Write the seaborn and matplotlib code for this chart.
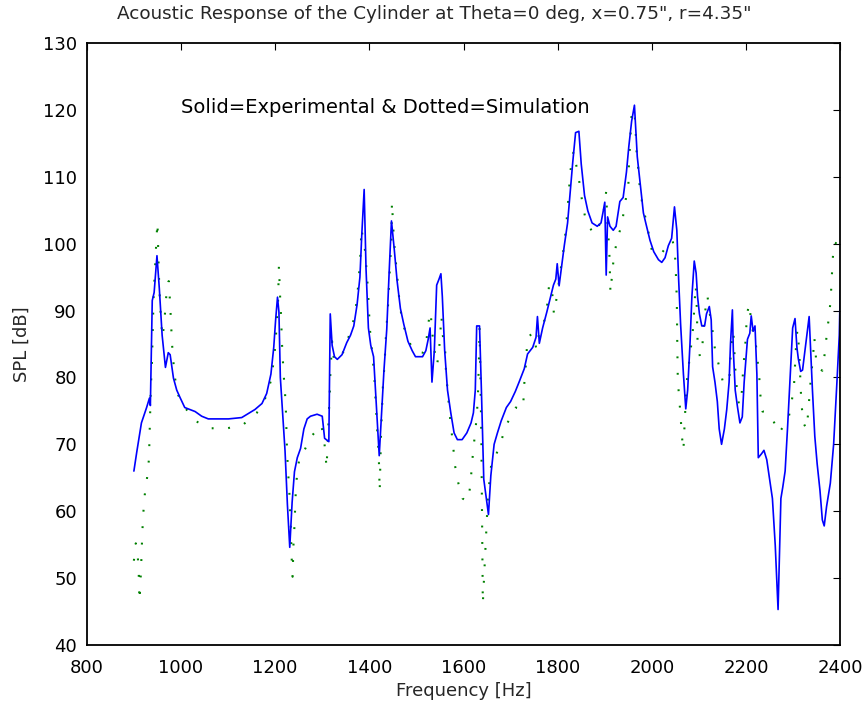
import numpy as np
import pandas as pd
import matplotlib
matplotlib.use("Agg")
import matplotlib.pyplot as plt
import seaborn as sns

# Measured response (solid)
exp_freq = [900, 906, 916, 927, 933, 935, 939, 943, 949, 954, 960, 967, 973, 977, 984, 991, 998,
            1008, 1019, 1030, 1044, 1058, 1087, 1101, 1129, 1143, 1157, 1172, 1182, 1191, 1197,
            1201, 1205, 1208, 1211, 1215, 1221, 1226, 1231, 1236, 1241, 1247, 1254, 1261, 1268,
            1275, 1289, 1300, 1305, 1314, 1317, 1321, 1326, 1332, 1342, 1352, 1360, 1367, 1374,
            1380, 1384, 1389, 1393, 1398, 1403, 1409, 1414, 1421, 1426, 1431, 1437, 1442, 1447,
            1453, 1459, 1466, 1473, 1482, 1491, 1498, 1513, 1520, 1525, 1529, 1533, 1538, 1543,
            1548, 1552, 1555, 1560, 1566, 1573, 1580, 1587, 1597, 1607, 1616, 1621, 1625, 1628,
            1634, 1638, 1643, 1653, 1658, 1665, 1672, 1680, 1691, 1700, 1710, 1718, 1729, 1736,
            1747, 1754, 1757, 1761, 1768, 1777, 1784, 1791, 1796, 1799, 1803, 1809, 1814, 1821,
            1826, 1832, 1838, 1845, 1850, 1857, 1864, 1873, 1884, 1892, 1896, 1900, 1903, 1906,
            1911, 1918, 1924, 1932, 1939, 1946, 1951, 1957, 1963, 1969, 1976, 1982, 1987, 1996,
            2004, 2014, 2021, 2028, 2035, 2042, 2048, 2053, 2057, 2061, 2067, 2072, 2076, 2081,
            2085, 2090, 2094, 2097, 2101, 2106, 2112, 2116, 2122, 2126, 2129, 2134, 2139, 2143,
            2148, 2154, 2159, 2164, 2167, 2171, 2173, 2177, 2182, 2187, 2192, 2196, 2203, 2208,
            2211, 2215, 2219, 2223, 2226, 2233, 2238, 2244, 2250, 2256, 2262, 2268, 2271, 2274,
            2278, 2283, 2288, 2294, 2299, 2304, 2308, 2311, 2316, 2320, 2325, 2330, 2334, 2337,
            2341, 2346, 2351, 2357, 2362, 2366, 2371, 2379, 2386, 2393, 2398, 2400]
exp_spl = [66.0, 68.8, 73.2, 75.5, 76.9, 75.8, 91.5, 92.7, 98.2, 93.3, 86.3, 81.5, 83.7, 83.4, 79.9,
           78.1, 77.0, 75.5, 75.2, 74.9, 74.2, 73.8, 73.8, 73.8, 74.0, 74.6, 75.2, 76.1, 77.6, 80.5,
           84.5, 88.6, 92.0, 89.8, 80.0, 75.5, 69.0, 61.0, 54.6, 61.3, 65.9, 68.0, 69.4, 72.3, 73.8,
           74.2, 74.5, 74.2, 70.9, 70.4, 89.5, 84.8, 83.1, 82.7, 83.4, 85.2, 86.3, 87.7, 90.9,
           95.0, 101.4, 108.1, 96.2, 87.4, 84.8, 83.1, 77.0, 68.3, 74.7, 81.0, 87.2, 95.6, 103.4,
           99.1, 94.4, 90.3, 88.0, 85.4, 84.0, 83.1, 83.1, 84.0, 85.7, 87.4, 79.3, 84.0, 93.8,
           94.7, 95.5, 92.1, 84.0, 78.1, 74.7, 71.7, 70.7, 70.7, 71.7, 73.2, 74.7, 78.1, 87.7,
           87.7, 78.1, 64.8, 59.5, 65.3, 70.0, 71.7, 73.5, 75.5, 76.4, 77.9, 79.3, 81.3, 83.5,
           84.5, 86.0, 89.1, 85.1, 87.4, 89.8, 91.8, 93.8, 94.7, 97.0, 93.7, 97.0, 99.7, 103.1,
           107.2, 112.2, 116.6, 116.8, 111.9, 107.2, 104.9, 103.1, 102.6, 103.1, 104.6, 106.2, 95.3,
           104.0, 102.6, 102.0, 102.6, 106.3, 106.9, 110.7, 114.5, 118.3, 120.7, 113.0, 108.4, 104.6,
           103.1, 100.5, 98.8, 97.6, 97.2, 97.9, 99.7, 100.8, 105.5, 102.0, 94.4, 88.0, 80.5, 75.3,
           78.1, 85.1, 92.1, 97.4, 95.6, 92.1, 89.5, 87.7, 87.7, 89.5, 90.6, 88.6, 81.6, 79.3,
           76.4, 72.3, 70.0, 72.3, 75.2, 79.3, 85.1, 90.1, 84.0, 78.1, 75.5, 73.2, 74.1, 79.3,
           85.7, 86.6, 89.2, 86.9, 87.7, 80.5, 68.0, 68.6, 69.1, 67.7, 64.8, 61.9, 54.9, 45.3,
           53.8, 61.9, 63.6, 66.0, 72.3, 80.5, 87.4, 88.8, 84.5, 82.8, 80.9, 81.1, 84.0, 86.9,
           89.1, 84.5, 78.1, 71.2, 67.1, 63.1, 58.7, 57.8, 60.7, 64.2, 70.0, 79.3, 86.3, 93.0]

# Model prediction (dotted)
sim_freq = [900, 904, 907, 910, 912, 915, 918, 920, 923, 928, 932, 933, 934, 935, 936, 938, 939,
            940, 941, 942, 944, 948, 950, 954, 958, 961, 965, 968, 971, 974, 977, 979, 981, 986,
            993, 1008, 1033, 1064, 1099, 1133, 1161, 1179, 1191, 1197, 1201, 1203, 1206, 1207,
            1208, 1211, 1213, 1214, 1218, 1221, 1223, 1225, 1227, 1230, 1233, 1235, 1237, 1239,
            1241, 1244, 1247, 1253, 1260, 1277, 1298, 1304, 1307, 1309, 1312, 1314, 1316, 1317,
            1319, 1321, 1325, 1333, 1347, 1357, 1368, 1374, 1377, 1380, 1382, 1383, 1392, 1394,
            1397, 1399, 1401, 1408, 1411, 1413, 1415, 1417, 1420, 1421, 1422, 1425, 1429, 1432,
            1434, 1436, 1439, 1441, 1443, 1445, 1447, 1448, 1452, 1455, 1459, 1462, 1467, 1474,
            1488, 1500, 1514, 1521, 1527, 1530, 1534, 1537, 1544, 1548, 1551, 1553, 1556, 1561,
            1563, 1567, 1570, 1578, 1582, 1589, 1598, 1605, 1610, 1615, 1618, 1622, 1626, 1629,
            1631, 1632, 1633, 1634, 1636, 1638, 1639, 1640, 1641, 1645, 1652, 1660, 1667, 1679,
            1691, 1711, 1724, 1727, 1729, 1732, 1736, 1747, 1755, 1761, 1770, 1777, 1782, 1788,
            1792, 1798, 1806, 1814, 1818, 1821, 1824, 1827, 1831, 1835, 1839, 1846, 1852, 1859,
            1876, 1890, 1898, 1903, 1905, 1908, 1910, 1912, 1919, 1926, 1937, 1942, 1950, 1951,
            1953, 1955, 1957, 1962, 1965, 1967, 1971, 1974, 1980, 1989, 2001, 2014, 2021, 2035,
            2044, 2049, 2051, 2053, 2054, 2055, 2058, 2061, 2063, 2067, 2070, 2074, 2079, 2084,
            2088, 2090, 2093, 2095, 2097, 2102, 2107, 2109, 2113, 2118, 2123, 2129, 2134, 2143,
            2152, 2159, 2165, 2167, 2170, 2173, 2175, 2177, 2180, 2185, 2189, 2192, 2194, 2198,
            2200, 2203, 2207, 2210, 2217, 2221, 2224, 2228, 2230, 2235, 2240, 2256, 2270, 2290,
            2297, 2302, 2304, 2306, 2309, 2313, 2316, 2318, 2322, 2328, 2331, 2335, 2338, 2342,
            2345, 2350, 2357, 2362, 2368, 2372, 2377, 2380, 2382, 2384, 2387, 2396, 2400]
sim_spl = [52.6, 55.2, 54.6, 51.3, 46.6, 51.0, 57.0, 59.7, 62.4, 65.0, 67.8, 70.6, 73.2, 75.8, 78.7,
           81.3, 84.0, 86.9, 89.5, 92.4, 95.0, 100.8, 103.2, 93.3, 88.0, 86.0, 88.6, 91.5, 94.0,
           94.4, 91.0, 88.0, 85.0, 80.5, 77.5, 75.5, 73.4, 72.4, 72.4, 73.0, 74.7, 76.9, 79.5,
           82.5, 85.2, 88.0, 90.9, 93.8, 96.7, 91.2, 88.6, 85.7, 80.5, 77.6, 74.7, 69.4, 66.5,
           63.0, 58.1, 53.1, 50.2, 55.2, 57.8, 63.3, 65.9, 68.5, 68.8, 71.2, 72.9, 70.6, 68.5,
           66.5, 70.6, 74.7, 77.6, 80.2, 82.8, 85.4, 82.5, 82.8, 84.0, 86.3, 88.9, 91.8, 94.4,
           97.0, 99.7, 102.3, 98.5, 95.9, 93.3, 90.3, 87.4, 82.2, 79.6, 77.0, 74.4, 71.7, 68.5,
           65.9, 63.0, 72.0, 79.0, 81.6, 84.5, 87.2, 89.8, 92.7, 95.3, 98.2, 100.8, 106.2, 100.8,
           98.2, 95.3, 92.7, 89.8, 87.4, 84.8, 83.8, 83.7, 85.4, 88.9, 89.8, 86.5, 84.5, 81.9,
           84.0, 86.9, 89.2, 86.3, 84.0, 80.5, 77.6, 74.9, 69.7, 66.8, 64.2, 61.9, 61.6, 61.6,
           64.2, 67.1, 70.0, 72.6, 75.2, 78.1, 80.8, 83.4, 87.5, 80.0, 70.0, 62.0, 55.0, 46.2,
           52.0, 62.4, 67.7, 68.0, 70.3, 72.9, 75.5, 75.2, 76.1, 79.0, 81.6, 86.0, 86.6, 84.2,
           86.9, 88.0, 90.3, 94.0, 93.0, 89.5, 92.0, 96.0, 99.9, 102.6, 105.2, 108.1, 110.7, 113.3,
           113.8, 111.9, 109.2, 106.3, 103.7, 101.4, 103.0, 105.0, 107.8, 104.0, 100.8, 98.0, 92.7,
           97.9, 100.5, 103.1, 105.8, 108.4, 111.3, 113.9, 116.5, 119.4, 120.0, 118.0, 114.2,
           111.3, 108.7, 105.8, 103.1, 98.6, 98.8, 98.6, 99.9, 100.5, 98.5, 95.6, 91.5, 84.8,
           80.0, 76.7, 74.5, 71.7, 69.1, 73.8, 79.3, 82.2, 85.1, 87.7, 90.3, 93.8, 91.2, 85.6,
           83.1, 84.2, 86.9, 89.8, 92.2, 89.5, 86.9, 84.2, 81.6, 79.0, 79.3, 80.2, 82.8, 85.4,
           86.9, 84.0, 81.4, 78.7, 75.9, 76.1, 78.7, 81.6, 84.2, 87.1, 89.8, 91.0, 88.9, 85.7,
           84.8, 82.8, 80.2, 77.6, 74.9, 74.9, 73.8, 71.7, 73.8, 76.4, 79.0, 81.6, 84.5, 87.1,
           84.0, 78.4, 75.8, 73.2, 72.3, 74.0, 77.6, 80.2, 82.8, 86.0, 81.6, 81.3, 81.0, 84.0,
           86.9, 89.5, 92.1, 95.0, 97.6, 100.2, 99.9, 100.0]

x_ticks = [800, 1000, 1200, 1400, 1600, 1800, 2000, 2200, 2400]
y_ticks = [40, 50, 60, 70, 80, 90, 100, 110, 120, 130]

sns.set_theme(style="white")
plt.rcParams["font.family"] = ["DejaVu Sans"]
plt.rcParams["xtick.direction"] = "in"
plt.rcParams["ytick.direction"] = "in"

exp_df = pd.DataFrame({"Frequency": exp_freq, "SPL": exp_spl})
sim_df = pd.DataFrame({"Frequency": sim_freq, "SPL": sim_spl})

fig = plt.figure(figsize=(8.68, 7.13), dpi=100)
ax = fig.add_axes([0.100, 0.0954, 0.868, 0.8443])

sns.lineplot(data=sim_df, x="Frequency", y="SPL", ax=ax, color="#008000",
             linewidth=1.5, linestyle=(0, (0.9, 7.0)), estimator=None, sort=False)
sns.lineplot(data=exp_df, x="Frequency", y="SPL", ax=ax, color="#0000ff",
             linewidth=1.2, estimator=None, sort=False)

ax.set_xlim(800, 2400)
ax.set_ylim(40, 130)
ax.set_xticks(x_ticks)
ax.set_yticks(y_ticks)
ax.tick_params(axis="both", which="both", direction="in", length=5, width=0.8,
               top=True, right=True, labelsize=13, colors="black")
ax.tick_params(axis="x", pad=10)
ax.tick_params(axis="y", pad=7)
for sp in ax.spines.values():
    sp.set_visible(True)
    sp.set_color("black")
    sp.set_linewidth(1.3)

ax.set_xlabel("Frequency [Hz]", fontsize=13, labelpad=4)
ax.set_ylabel("SPL [dB]", fontsize=13, labelpad=9)
ax.set_title('Acoustic Response of the Cylinder at Theta=0 deg, x=0.75", r=4.35"',
             fontsize=13.2, pad=17, x=0.461)
ax.text(1000, 120.3, "Solid=Experimental & Dotted=Simulation", fontsize=14,
        va="center", ha="left", color="black")

fig.savefig("out.png", dpi=100, facecolor="white")
